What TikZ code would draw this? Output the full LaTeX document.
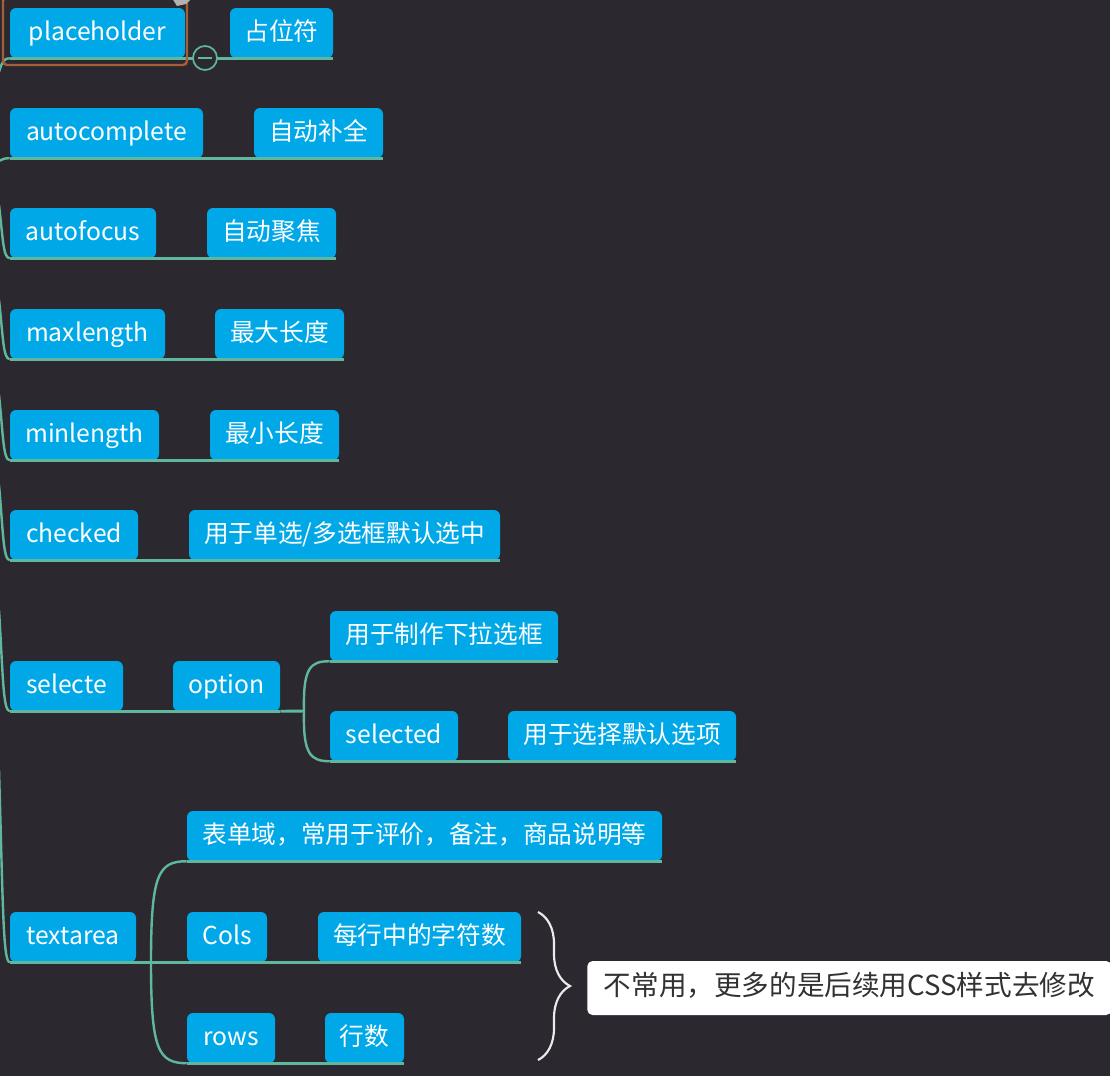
\documentclass[tikz,border=0pt]{standalone}
\usepackage{fontspec}
\setmainfont{Noto Sans CJK SC}
\usetikzlibrary{decorations.pathreplacing}
\definecolor{bgc}{RGB}{44,40,47}
\definecolor{boxc}{RGB}{0,168,232}
\definecolor{linec}{RGB}{95,184,157}
\definecolor{selc}{RGB}{165,95,55}
\definecolor{notec}{RGB}{50,50,50}
\newcommand\mmbox[6]{\node[topic, minimum width={(#4-#2)*0.75pt}, minimum height={(#5-#3)*0.75pt}] (#1) at ({(#2+#4)/2},{(#3+#5)/2}) {#6};}
\begin{document}
\begin{tikzpicture}[x=0.75pt,y=-0.75pt,
  topic/.style={fill=boxc, text=white, rounded corners=4.5pt, inner sep=0pt,
    font=\fontsize{18.5pt}{22pt}\selectfont, text height=1.07em, text depth=0em},
  ul/.style={draw=linec, line width=2.2pt},
  branch/.style={draw=linec, line width=1.8pt},
  notebox/.style={fill=white, text=notec, rounded corners=4pt, inner xsep=12.5pt,
    minimum height=40.5pt, font=\fontsize{20.7pt}{24pt}\selectfont, text height=1.05em, text depth=0em}]
\useasboundingbox (0,0) rectangle (1110,1076);
\clip (0,0) rectangle (1110,1076);
\fill[bgc] (0,0) rectangle (1110,1076);

% nodes
\mmbox{ph}{10}{8}{185}{58}{placeholder}
\mmbox{phz}{230}{8}{333}{58}{占位符}
\mmbox{ac}{10}{108}{203}{158}{autocomplete}
\mmbox{acz}{254}{108}{383}{158}{自动补全}
\mmbox{af}{10}{208}{156}{258}{autofocus}
\mmbox{afz}{207}{208}{336}{258}{自动聚焦}
\mmbox{mx}{10}{309}{165}{359}{maxlength}
\mmbox{mxz}{215}{309}{344}{359}{最大长度}
\mmbox{mn}{10}{410}{159}{460}{minlength}
\mmbox{mnz}{210}{410}{339}{460}{最小长度}
\mmbox{ck}{10}{510}{138}{560}{checked}
\mmbox{ckz}{189}{510}{500}{560}{用于单选/多选框默认选中}
\mmbox{sl}{10}{661}{123}{711}{selecte}
\mmbox{op}{173}{661}{280}{711}{option}
\mmbox{opz}{330}{611}{558}{661}{用于制作下拉选框}
\mmbox{sd}{330}{711}{458}{761}{selected}
\mmbox{sdz}{508}{711}{736}{761}{用于选择默认选项}
\mmbox{ta}{10}{912}{136}{962}{textarea}
\mmbox{taz}{187}{811}{662}{861}{表单域，常用于评价，备注，商品说明等}
\mmbox{cl}{187}{912}{267}{962}{Cols}
\mmbox{clz}{318}{912}{521}{962}{每行中的字符数}
\mmbox{rw}{187}{1013}{275}{1063}{rows}
\mmbox{rwz}{325}{1013}{404}{1063}{行数}

% underlines
\foreach \n in {ph,phz,ac,acz,af,afz,mx,mxz,mn,mnz,ck,ckz,sl,op,opz,sd,sdz,ta,taz,cl,clz,rw,rwz}
  \draw[ul] (\n.south west) -- (\n.south east);

% parent-child connectors
\draw[ul] (ph.south east) -- (phz.south west);
\draw[ul] (ac.south east) -- (acz.south west);
\draw[ul] (af.south east) -- (afz.south west);
\draw[ul] (mx.south east) -- (mxz.south west);
\draw[ul] (mn.south east) -- (mnz.south west);
\draw[ul] (ck.south east) -- (ckz.south west);
\draw[ul] (sl.south east) -- (op.south west);
\draw[ul] (sd.south east) -- (sdz.south west);
\draw[ul] (cl.south east) -- (clz.south west);
\draw[ul] (rw.south east) -- (rwz.south west);

% option fork
\coordinate (ofork) at (304,711);
\draw[ul] (op.south east) -- (ofork);
\draw[branch] (ofork) .. controls (303,668) and (310,661) .. (opz.south west);
\draw[branch] (ofork) .. controls (303,754) and (310,761) .. (sd.south west);

% textarea fork
\coordinate (tfork) at (151,962);
\draw[ul] (ta.south east) -- (cl.south west);
\draw[branch] (tfork) .. controls (151,875) and (158,861) .. (taz.south west);
\draw[branch] (tfork) .. controls (151,1050) and (158,1063) .. (rw.south west);

% spine branches (root off to the left)
\coordinate (s1) at (-1,72);
\coordinate (s2) at (-1,161);
\coordinate (s3) at (-1,205);
\coordinate (s4) at (-1,300);
\coordinate (s5) at (-1,395);
\coordinate (s6) at (-1,485);
\coordinate (s7) at (-1,610);
\coordinate (s8) at (-1,770);
\draw[branch] (s1) .. controls (2,62) and (4,58) .. (ph.south west);
\draw[branch] (s2) .. controls (3,159) and (5,158) .. (ac.south west);
\draw[branch] (s3) .. controls (3,238) and (3,258) .. (af.south west);
\draw[branch] (s4) .. controls (3,335) and (3,359) .. (mx.south west);
\draw[branch] (s5) .. controls (3,432) and (3,460) .. (mn.south west);
\draw[branch] (s6) .. controls (3,528) and (3,560) .. (ck.south west);
\draw[branch] (s7) .. controls (3,675) and (3,711) .. (sl.south west);
\draw[branch] (s8) .. controls (3,905) and (3,962) .. (ta.south west);

% selection frame and collapse button
\draw[selc, line width=1.8pt, rounded corners=3pt] (3,-3) rectangle (187,65);
\fill[gray!60] (172,-2) -- (192,-2) -- (186,4) -- (177,6) -- cycle;
\node[circle, draw=linec, fill=bgc, line width=1.3pt, minimum size=18pt, inner sep=0pt] (col) at (205,58) {};
\draw[linec, line width=1.5pt] ([xshift=-5.5pt]col.center) -- ([xshift=5.5pt]col.center);

% brace and note
\coordinate (bt) at (538,912);
\coordinate (bb) at (538,1060);
\draw[white!92!black, line width=1.6pt, decorate, decoration={brace, amplitude=24pt}] (bt) -- (bb);
\node[notebox, anchor=west] (note) at (587,988) {不常用，更多的是后续用CSS样式去修改};
\end{tikzpicture}
\end{document}
